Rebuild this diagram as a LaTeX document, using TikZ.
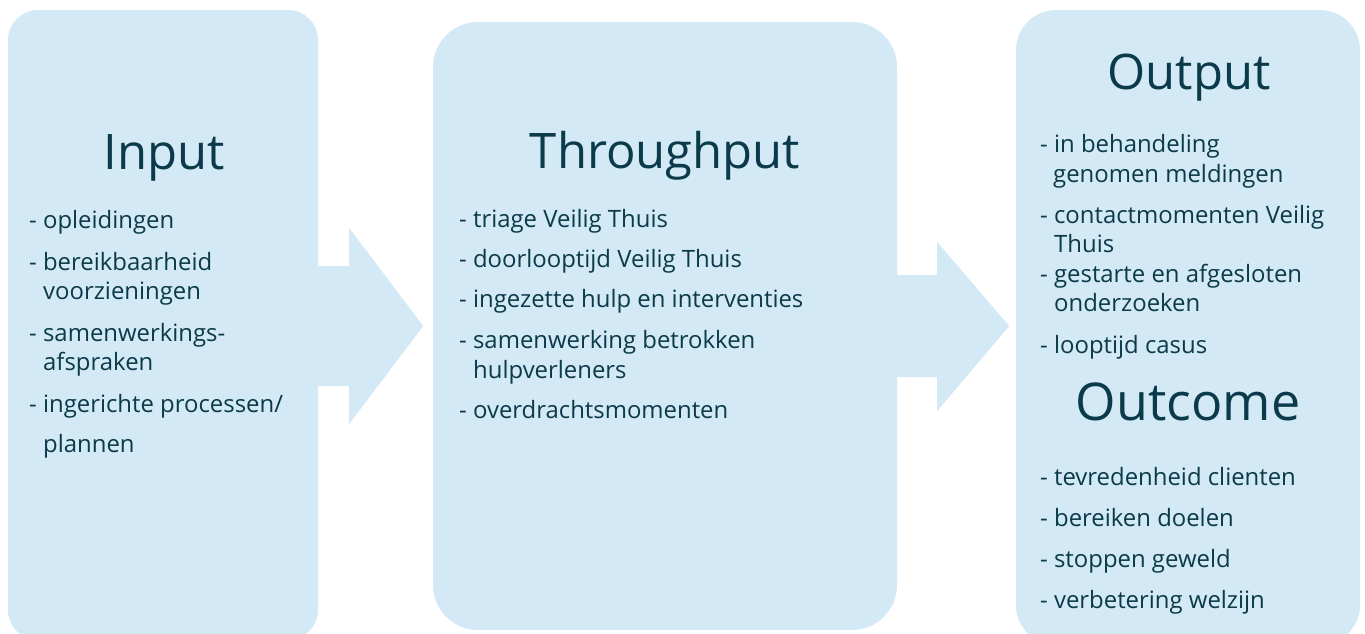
\documentclass[tikz,border=0pt]{standalone}
\usepackage{fontspec}
\setmainfont{Open Sans}
\usepackage{tikz}
\usetikzlibrary{calc,positioning}
\definecolor{panelcol}{HTML}{D3E9F5}
\definecolor{inkcol}{HTML}{0B3A4A}
\tikzset{
  panel/.style={fill=panelcol,draw=none,inner sep=0pt},
  flow/.style={fill=panelcol,draw=none},
  title/.style={anchor=base,inner sep=0pt,text=inkcol,font=\fontsize{49}{58}\selectfont},
  item/.style={anchor=base west,inner sep=0pt,text=inkcol,font=\fontsize{23.9}{28}\selectfont},
}

\begin{document}
\begin{tikzpicture}[x=1pt,y=-1pt]
\useasboundingbox (0,0) rectangle (1365,633);
\clip (0,0) rectangle (1365,633);
%% panels
\node (input) at (163,325) [panel,rounded corners=30pt,minimum width=310pt,minimum height=630pt] {};
  \node (through) at (665,326) [panel,rounded corners=45pt,minimum width=464pt,minimum height=608pt] {};
  \node (output) at (1188,327.5) [panel,rounded corners=40pt,minimum width=344pt,minimum height=635pt] {};
  \fill [flow] ($(input.east)+(0,-59)$) -- ++(31,0) -- ++(0,-38) -- ++(74,98) -- ++(-74,98) -- ++(0,-38) -- ++(-31,0) -- cycle;
  \fill [flow] ($(through.east)+(0,-51)$) -- ++(40,0) -- ++(0,-33) -- ++(72,84) -- ++(-72,85) -- ++(0,-34) -- ++(-40,0) -- cycle;
%% input
\node (intitle) at (164.5,169) [title] {Input};
  \node (in1) at (29,228) [item] {- opleidingen};
  \node (in2) at (29,270) [item] {- bereikbaarheid};
  \node (in2b) at (43,299) [item] {voorzieningen};
  \node (in3) at (29,341) [item] {- samenwerkings-};
  \node (in3b) at (43,370) [item] {afspraken};
  \node (in4) at (29,412) [item] {- ingerichte processen/};
  \node (in4b) at (43,452) [item] {plannen};
%% throughput
\node (thtitle) at (665,168) [title] {Throughput};
  \node (th1) at (459,227) [item] {- triage Veilig Thuis};
  \node (th2) at (459,267) [item] {- doorlooptijd Veilig Thuis};
  \node (th3) at (459,307) [item] {- ingezette hulp en interventies};
  \node (th4) at (459,348) [item] {- samenwerking betrokken};
  \node (th4b) at (473,378) [item] {hulpverleners};
  \node (th5) at (459,418) [item] {- overdrachtsmomenten};
%% output and outcome
\node (outtitle) at (1189,89) [title] {Output};
  \node (out1) at (1040,152) [item] {- in behandeling};
  \node (out1b) at (1053,182) [item] {genomen meldingen};
  \node (out2) at (1040,223) [item] {- contactmomenten Veilig};
  \node (out2b) at (1054,252) [item] {Thuis};
  \node (out3) at (1040,282) [item] {- gestarte en afgesloten};
  \node (out3b) at (1054,311) [item] {onderzoeken};
  \node (out4) at (1040,353) [item] {- looptijd casus};
  \node (octitle) at (1188,420) [title,font=\fontsize{52}{60}\selectfont] {Outcome};
  \node (oc1) at (1040,485) [item] {- tevredenheid clienten};
  \node (oc2) at (1040,526) [item] {- bereiken doelen};
  \node (oc3) at (1040,567) [item] {- stoppen geweld};
  \node (oc4) at (1040,608) [item] {- verbetering welzijn};
%
\end{tikzpicture}
\end{document}
